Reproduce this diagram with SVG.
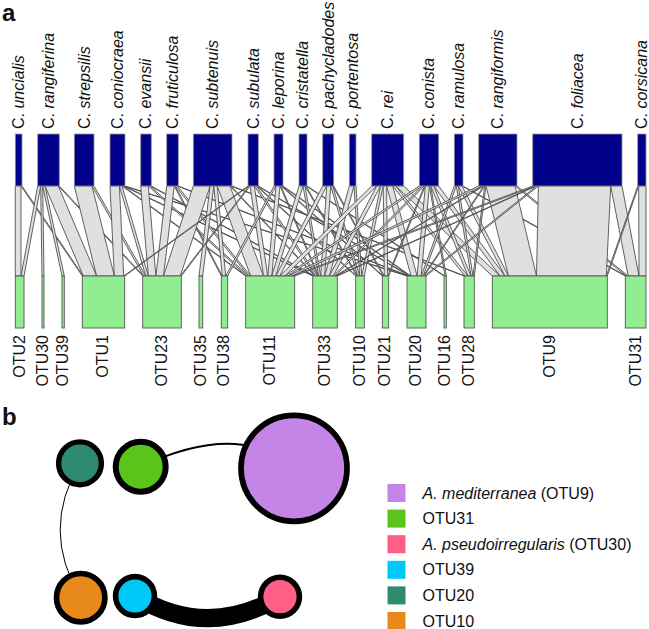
<svg xmlns="http://www.w3.org/2000/svg" width="649" height="629" viewBox="0 0 649 629">
<style>
text{font-family:"Liberation Sans",Arial,sans-serif;fill:#111}
.pl{font-weight:bold;font-size:24px}
.sp{font-size:16px}
.otu{font-size:16px;text-anchor:end}
.lg{font-size:16px}
.lk polygon{fill:#e0e0e0;stroke:#474747;stroke-width:0.85;stroke-linejoin:round}
.top{fill:#00008b;stroke:#9a9a9a;stroke-width:0.8}
.bot{fill:#90ee90;stroke:#555;stroke-width:0.9}
.nd{stroke:#000}
.ed{fill:none;stroke:#000}
</style>
<text class="pl" x="2" y="21">a</text>
<g id="links" class="lk">
<polygon points="15.3,186 21,186 21,276 15.3,276"/>
<polygon points="21,186 22,186 83.3,276 82.3,276"/>
<polygon points="37.7,186 40.7,186 24,276 21,276"/>
<polygon points="40.7,186 42.7,186 44,276 42,276"/>
<polygon points="42.7,186 45,186 64.3,276 62,276"/>
<polygon points="45,186 58.3,186 96.6,276 83.3,276"/>
<polygon points="58.3,186 59.3,186 143.7,276 142.7,276"/>
<polygon points="74.3,186 92,186 114.3,276 96.6,276"/>
<polygon points="92,186 94,186 145.7,276 143.7,276"/>
<polygon points="110,186 119.4,186 123.7,276 114.3,276"/>
<polygon points="119.4,186 122,186 148.3,276 145.7,276"/>
<polygon points="122,186 123,186 246.7,276 245.7,276"/>
<polygon points="123,186 124,186 313.7,276 312.7,276"/>
<polygon points="124,186 125,186 408,276 407,276"/>
<polygon points="140.7,186 148.3,186 155.9,276 148.3,276"/>
<polygon points="148.3,186 150.3,186 248.7,276 246.7,276"/>
<polygon points="150.3,186 151.3,186 314.7,276 313.7,276"/>
<polygon points="166.7,186 174.3,186 163.5,276 155.9,276"/>
<polygon points="174.3,186 175.3,186 222.3,276 221.3,276"/>
<polygon points="175.3,186 177.3,186 250.7,276 248.7,276"/>
<polygon points="177.3,186 178.3,186 409,276 408,276"/>
<polygon points="193.3,186 210.1,186 180.3,276 163.5,276"/>
<polygon points="210.1,186 213.8,186 202.7,276 199,276"/>
<polygon points="213.8,186 217.2,186 225.7,276 222.3,276"/>
<polygon points="217.2,186 230,186 263.5,276 250.7,276"/>
<polygon points="230,186 231,186 315.7,276 314.7,276"/>
<polygon points="231,186 232,186 465,276 464,276"/>
<polygon points="248,186 249,186 124.7,276 123.7,276"/>
<polygon points="249,186 250,186 181.3,276 180.3,276"/>
<polygon points="250,186 254.3,186 267.8,276 263.5,276"/>
<polygon points="254.3,186 256.3,186 317.7,276 315.7,276"/>
<polygon points="256.3,186 257.3,186 356.7,276 355.7,276"/>
<polygon points="257.3,186 258.3,186 410,276 409,276"/>
<polygon points="274,186 276,186 227.7,276 225.7,276"/>
<polygon points="276,186 280,186 271.8,276 267.8,276"/>
<polygon points="280,186 281,186 318.7,276 317.7,276"/>
<polygon points="281,186 282,186 383.3,276 382.3,276"/>
<polygon points="282,186 283,186 411,276 410,276"/>
<polygon points="299,186 303,186 275.8,276 271.8,276"/>
<polygon points="303,186 305,186 320.7,276 318.7,276"/>
<polygon points="305,186 306,186 357.7,276 356.7,276"/>
<polygon points="306,186 307,186 445,276 444,276"/>
<polygon points="322.7,186 326.7,186 279.8,276 275.8,276"/>
<polygon points="326.7,186 330.7,186 324.7,276 320.7,276"/>
<polygon points="330.7,186 332.7,186 359.7,276 357.7,276"/>
<polygon points="332.7,186 333.7,186 384.3,276 383.3,276"/>
<polygon points="349.3,186 354,186 329.4,276 324.7,276"/>
<polygon points="354,186 356,186 361.7,276 359.7,276"/>
<polygon points="371.7,186 376.7,186 284.8,276 279.8,276"/>
<polygon points="376.7,186 380.6,186 333.3,276 329.4,276"/>
<polygon points="380.6,186 383.2,186 364.3,276 361.7,276"/>
<polygon points="383.2,186 386.6,186 387.7,276 384.3,276"/>
<polygon points="386.6,186 392.7,186 417.1,276 411,276"/>
<polygon points="392.7,186 395.7,186 468,276 465,276"/>
<polygon points="395.7,186 403.7,186 500,276 492.3,276"/>
<polygon points="419.3,186 422.3,186 287.8,276 284.8,276"/>
<polygon points="422.3,186 424.3,186 335.3,276 333.3,276"/>
<polygon points="424.3,186 425.3,186 388.7,276 387.7,276"/>
<polygon points="425.3,186 429.4,186 421.2,276 417.1,276"/>
<polygon points="429.4,186 430.7,186 446.3,276 445,276"/>
<polygon points="430.7,186 433.7,186 471,276 468,276"/>
<polygon points="433.7,186 438.7,186 504.9,276 500,276"/>
<polygon points="454.3,186 456.3,186 423.2,276 421.2,276"/>
<polygon points="456.3,186 458.3,186 473,276 471,276"/>
<polygon points="458.3,186 462,186 508.5,276 504.9,276"/>
<polygon points="462,186 463,186 626.3,276 625.3,276"/>
<polygon points="478.7,186 482.7,186 291.8,276 287.8,276"/>
<polygon points="482.7,186 483.7,186 336.3,276 335.3,276"/>
<polygon points="483.7,186 484.7,186 424.2,276 423.2,276"/>
<polygon points="484.7,186 486,186 474.3,276 473,276"/>
<polygon points="486,186 515,186 536.5,276 508.5,276"/>
<polygon points="515,186 517,186 628.2,276 626.3,276"/>
<polygon points="532.7,186 535.6,186 294.7,276 291.8,276"/>
<polygon points="535.6,186 536.6,186 337.3,276 336.3,276"/>
<polygon points="536.6,186 538.4,186 426,276 424.2,276"/>
<polygon points="538.4,186 610.7,186 606.3,276 536.5,276"/>
<polygon points="610.7,186 622,186 639,276 628.2,276"/>
<polygon points="637.7,186 638.7,186 607.3,276 606.3,276"/>
<polygon points="638.7,186 646,186 646,276 639,276"/>
</g>
<g id="sp-uncialis"><rect class="top" x="15.3" y="134" width="6.7" height="52"/><text class="sp" transform="translate(24,129) rotate(-90)">C. <tspan font-style="italic">uncialis</tspan></text></g>
<g id="sp-rangiferina"><rect class="top" x="37.7" y="134" width="21.6" height="52"/><text class="sp" transform="translate(53.8,129) rotate(-90)">C. <tspan font-style="italic">rangiferina</tspan></text></g>
<g id="sp-strepsilis"><rect class="top" x="74.3" y="134" width="19.7" height="52"/><text class="sp" transform="translate(89.5,129) rotate(-90)">C. <tspan font-style="italic">strepsilis</tspan></text></g>
<g id="sp-coniocraea"><rect class="top" x="110" y="134" width="15" height="52"/><text class="sp" transform="translate(122.8,129) rotate(-90)">C. <tspan font-style="italic">coniocraea</tspan></text></g>
<g id="sp-evansii"><rect class="top" x="140.7" y="134" width="10.6" height="52"/><text class="sp" transform="translate(151.3,129) rotate(-90)">C. <tspan font-style="italic">evansii</tspan></text></g>
<g id="sp-fruticulosa"><rect class="top" x="166.7" y="134" width="11.6" height="52"/><text class="sp" transform="translate(177.8,129) rotate(-90)">C. <tspan font-style="italic">fruticulosa</tspan></text></g>
<g id="sp-subtenuis"><rect class="top" x="193.3" y="134" width="38.7" height="52"/><text class="sp" transform="translate(218,129) rotate(-90)">C. <tspan font-style="italic">subtenuis</tspan></text></g>
<g id="sp-subulata"><rect class="top" x="248" y="134" width="10.3" height="52"/><text class="sp" transform="translate(258.5,129) rotate(-90)">C. <tspan font-style="italic">subulata</tspan></text></g>
<g id="sp-leporina"><rect class="top" x="274" y="134" width="9" height="52"/><text class="sp" transform="translate(283.8,129) rotate(-90)">C. <tspan font-style="italic">leporina</tspan></text></g>
<g id="sp-cristatella"><rect class="top" x="299" y="134" width="8" height="52"/><text class="sp" transform="translate(308.3,129) rotate(-90)">C. <tspan font-style="italic">cristatella</tspan></text></g>
<g id="sp-pachycladodes"><rect class="top" x="322.7" y="134" width="11" height="52"/><text class="sp" transform="translate(333.5,129) rotate(-90)">C. <tspan font-style="italic">pachycladodes</tspan></text></g>
<g id="sp-portentosa"><rect class="top" x="349.3" y="134" width="6.7" height="52"/><text class="sp" transform="translate(358,129) rotate(-90)">C. <tspan font-style="italic">portentosa</tspan></text></g>
<g id="sp-rei"><rect class="top" x="371.7" y="134" width="32" height="52"/><text class="sp" transform="translate(393,129) rotate(-90)">C. <tspan font-style="italic">rei</tspan></text></g>
<g id="sp-conista"><rect class="top" x="419.3" y="134" width="19.4" height="52"/><text class="sp" transform="translate(434.3,129) rotate(-90)">C. <tspan font-style="italic">conista</tspan></text></g>
<g id="sp-ramulosa"><rect class="top" x="454.3" y="134" width="8.7" height="52"/><text class="sp" transform="translate(464,129) rotate(-90)">C. <tspan font-style="italic">ramulosa</tspan></text></g>
<g id="sp-rangiformis"><rect class="top" x="478.7" y="134" width="38.3" height="52"/><text class="sp" transform="translate(503.2,129) rotate(-90)">C. <tspan font-style="italic">rangiformis</tspan></text></g>
<g id="sp-foliacea"><rect class="top" x="532.7" y="134" width="89.3" height="52"/><text class="sp" transform="translate(582.7,129) rotate(-90)">C. <tspan font-style="italic">foliacea</tspan></text></g>
<g id="sp-corsicana"><rect class="top" x="637.7" y="134" width="8.3" height="52"/><text class="sp" transform="translate(647.2,129) rotate(-90)">C. <tspan font-style="italic">corsicana</tspan></text></g>
<g id="otu-OTU2"><rect class="bot" x="15.3" y="276" width="8.7" height="52"/><text class="otu" transform="translate(24.5,335) rotate(-90)">OTU2</text></g>
<g id="otu-OTU30"><rect class="bot" x="42" y="276" width="2" height="52"/><text class="otu" transform="translate(47.8,335) rotate(-90)">OTU30</text></g>
<g id="otu-OTU39"><rect class="bot" x="62" y="276" width="2.3" height="52"/><text class="otu" transform="translate(68,335) rotate(-90)">OTU39</text></g>
<g id="otu-OTU1"><rect class="bot" x="82.3" y="276" width="42.4" height="52"/><text class="otu" transform="translate(108.3,335) rotate(-90)">OTU1</text></g>
<g id="otu-OTU23"><rect class="bot" x="142.7" y="276" width="38.6" height="52"/><text class="otu" transform="translate(166.8,335) rotate(-90)">OTU23</text></g>
<g id="otu-OTU35"><rect class="bot" x="199" y="276" width="3.7" height="52"/><text class="otu" transform="translate(205.7,335) rotate(-90)">OTU35</text></g>
<g id="otu-OTU38"><rect class="bot" x="221.3" y="276" width="6.4" height="52"/><text class="otu" transform="translate(229.3,335) rotate(-90)">OTU38</text></g>
<g id="otu-OTU11"><rect class="bot" x="245.7" y="276" width="49" height="52"/><text class="otu" transform="translate(275,335) rotate(-90)">OTU11</text></g>
<g id="otu-OTU33"><rect class="bot" x="312.7" y="276" width="24.6" height="52"/><text class="otu" transform="translate(329.8,335) rotate(-90)">OTU33</text></g>
<g id="otu-OTU10"><rect class="bot" x="355.7" y="276" width="8.6" height="52"/><text class="otu" transform="translate(364.8,335) rotate(-90)">OTU10</text></g>
<g id="otu-OTU21"><rect class="bot" x="382.3" y="276" width="6.4" height="52"/><text class="otu" transform="translate(390.3,335) rotate(-90)">OTU21</text></g>
<g id="otu-OTU20"><rect class="bot" x="407" y="276" width="19" height="52"/><text class="otu" transform="translate(421.3,335) rotate(-90)">OTU20</text></g>
<g id="otu-OTU16"><rect class="bot" x="444" y="276" width="2.3" height="52"/><text class="otu" transform="translate(450,335) rotate(-90)">OTU16</text></g>
<g id="otu-OTU28"><rect class="bot" x="464" y="276" width="10.3" height="52"/><text class="otu" transform="translate(474,335) rotate(-90)">OTU28</text></g>
<g id="otu-OTU9"><rect class="bot" x="492.3" y="276" width="115" height="52"/><text class="otu" transform="translate(554.6,335) rotate(-90)">OTU9</text></g>
<g id="otu-OTU31"><rect class="bot" x="625.3" y="276" width="20.7" height="52"/><text class="otu" transform="translate(640.5,335) rotate(-90)">OTU31</text></g>
<text class="pl" x="2" y="425">b</text>
<g id="edges">
<path class="ed" stroke-width="2" d="M140.7,466.7 Q240,420 294,468.3"/>
<path class="ed" stroke-width="1" d="M80,463.3 Q40,530 80.7,597.7"/>
<path class="ed" stroke-width="18" d="M135,596 Q207,640 280,596.7"/>
</g>
<g id="n-OTU20"><circle class="nd" cx="80" cy="463.3" r="21.4" fill="#2e8b70" stroke-width="5.4"/></g>
<g id="n-OTU31"><circle class="nd" cx="140.7" cy="466.7" r="25" fill="#5bc41a" stroke-width="6"/></g>
<g id="n-OTU9"><circle class="nd" cx="294" cy="468.3" r="53" fill="#c485e6" stroke-width="5.7"/></g>
<g id="n-OTU10"><circle class="nd" cx="80.7" cy="597.7" r="24.2" fill="#e8891c" stroke-width="5.7"/></g>
<g id="n-OTU39"><circle class="nd" cx="135" cy="596" r="19.4" fill="#00c9f7" stroke-width="5.6"/></g>
<g id="n-OTU30"><circle class="nd" cx="280" cy="596.7" r="19.4" fill="#ff5f85" stroke-width="5.6"/></g>
<g id="legend">
<rect x="387.5" y="484" width="18" height="18" fill="#c485e6"/>
<text class="lg" x="422.5" y="498.5"><tspan font-style="italic">A. mediterranea</tspan> (OTU9)</text>
<rect x="387.5" y="509.6" width="18" height="18" fill="#5bc41a"/>
<text class="lg" x="422.5" y="524.1">OTU31</text>
<rect x="387.5" y="535.2" width="18" height="18" fill="#ff5f85"/>
<text class="lg" x="422.5" y="549.7"><tspan font-style="italic">A. pseudoirregularis</tspan> (OTU30)</text>
<rect x="387.5" y="560.8" width="18" height="18" fill="#00c9f7"/>
<text class="lg" x="422.5" y="575.3">OTU39</text>
<rect x="387.5" y="586.4" width="18" height="18" fill="#2e8b70"/>
<text class="lg" x="422.5" y="600.9">OTU20</text>
<rect x="387.5" y="612" width="18" height="18" fill="#e8891c"/>
<text class="lg" x="422.5" y="626.5">OTU10</text>
</g>
</svg>
